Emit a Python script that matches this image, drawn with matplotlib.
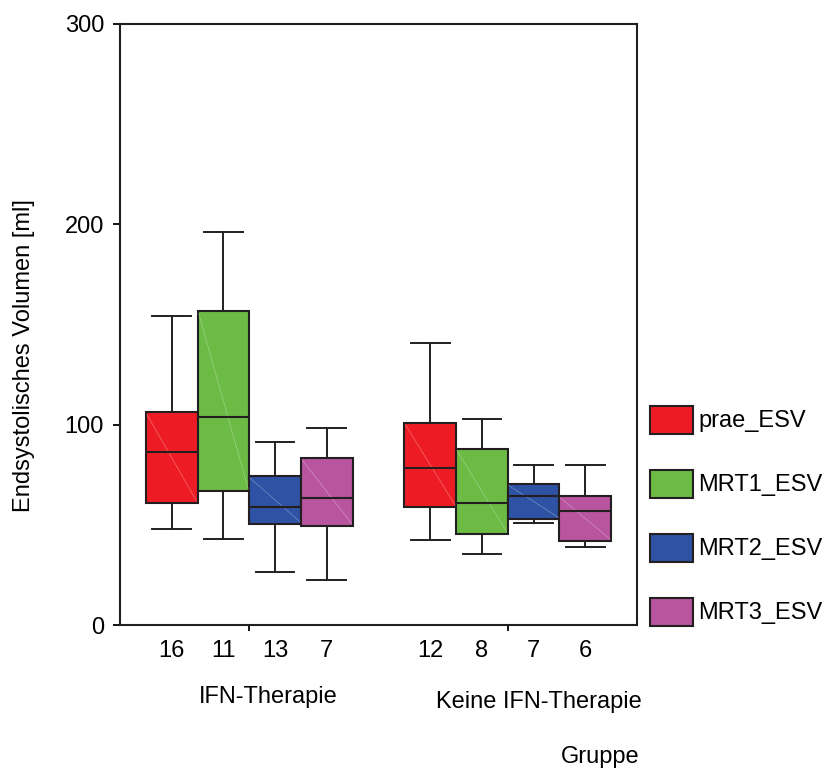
import numpy as np
import matplotlib.pyplot as plt
from matplotlib.patches import Rectangle

plt.rcParams['font.family'] = ['Liberation Sans', 'DejaVu Sans']
plt.rcParams['font.size'] = 17

# data (whisker low, Q1, median, Q3, whisker high)
series = ['prae_ESV', 'MRT1_ESV', 'MRT2_ESV', 'MRT3_ESV']
groups = ['IFN-Therapie', 'Keine IFN-Therapie']
colors = ['#ED1C24', '#6BBB44', '#2E52A4', '#B8559E']
ifn_stats = [
    [48.0, 60.9, 86.2, 106.1, 154.0],
    [42.7, 67.1, 103.6, 156.6, 196.3],
    [26.6, 50.6, 58.9, 74.2, 91.3],
    [22.4, 49.6, 63.3, 83.5, 98.3],
]
no_ifn_stats = [
    [42.5, 58.9, 78.2, 101.0, 141.0],
    [35.2, 45.5, 60.8, 88.0, 102.6],
    [50.8, 52.7, 64.4, 70.6, 79.7],
    [38.9, 41.9, 57.1, 64.4, 79.7],
]
counts = [[16, 11, 13, 7], [12, 8, 7, 6]]

edge = '#231F20'
W, H = 830, 770
fig = plt.figure(figsize=(8.3, 7.7), dpi=100)
ax = fig.add_axes([120/W, 1-625/H, 517/W, 601/H])

centers = [0, 5]
offsets = np.array([-1.5, -0.5, 0.5, 1.5])
for gi, stats in enumerate([ifn_stats, no_ifn_stats]):
    pos = centers[gi] + offsets
    bx = [dict(whislo=s[0], q1=s[1], med=s[2], q3=s[3], whishi=s[4], fliers=[]) for s in stats]
    res = ax.bxp(bx, positions=pos, widths=1.0, capwidths=0.75, patch_artist=True,
                 showfliers=False, manage_ticks=False,
                 boxprops=dict(edgecolor=edge, linewidth=1.5),
                 medianprops=dict(color=edge, linewidth=1.5),
                 whiskerprops=dict(color=edge, linewidth=1.4),
                 capprops=dict(color=edge, linewidth=1.4))
    for b, c in zip(res['boxes'], colors):
        b.set_facecolor(c)
        b.set_zorder(2)
    for m in res['medians']:
        m.set_zorder(3)
    # faint diagonal artefact inside each box
    for p, s in zip(pos, stats):
        ax.plot([p - 0.48, p + 0.48], [s[3] - 1, s[1] + 1], color='white', lw=0.5, alpha=0.35, zorder=2.5)
    for p, n in zip(pos, counts[gi]):
        ax.text(p, -13, str(n), ha='center', va='center')

ax.set_xlim(-2.5, 7.5)
ax.set_ylim(0, 300)
ax.set_yticks([0, 100, 200, 300])
ax.set_xticks(centers)
ax.set_xticklabels([])
ax.tick_params(axis='y', direction='out', length=5, width=1.3, pad=6.5, labelsize=17)
ax.tick_params(axis='x', direction='out', length=4, width=1.3)
for sp in ax.spines.values():
    sp.set_linewidth(1.5)
    sp.set_color(edge)

fig.text(24/W, 1-356/H, 'Endsystolisches Volumen [ml]', rotation=90, ha='center', va='center')
fig.text(268/W, 1-697/H, groups[0], ha='center', va='center')
fig.text(539/W, 1-702/H, groups[1], ha='center', va='center')
fig.text(600/W, 1-757/H, 'Gruppe', ha='center', va='center')

# legend drawn by hand to match the spacing
for i, (name, c) in enumerate(zip(series, colors)):
    top = 405.5 + i * 64.3
    fig.add_artist(Rectangle((650/W, 1-(top+28)/H), 43/W, 28/H, transform=fig.transFigure,
                             facecolor=c, edgecolor=edge, linewidth=1.5))
    fig.text(698/W, 1-(top+15)/H, name, ha='left', va='center')

fig.savefig('out.png', dpi=100)
